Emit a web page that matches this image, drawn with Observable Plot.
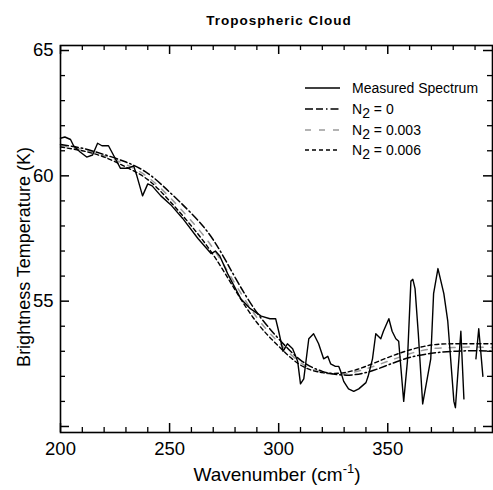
<!DOCTYPE html>
<html>
<head>
<meta charset="utf-8">
<script src="https://cdn.jsdelivr.net/npm/d3@7"></script>
<script src="https://cdn.jsdelivr.net/npm/@observablehq/plot@0.6"></script>
<style>
  html, body { margin: 0; padding: 0; background: white; }
  svg { display: block; }
</style>
</head>
<body>
<div id="chart"></div>
<script>
// Measured spectrum (wavenumber cm-1, brightness temperature K); NaN = gap
const measWn = [200, 202, 204.6, 206, 209, 212, 214.7, 217, 219, 222, 224, 227.5, 230.7, 233.5, 235, 237.6, 240, 242, 246, 250.5, 256, 263, 269, 271, 273, 276.6, 282.6, 287, 292, 296, 298.6, 300, 302, 304, 306.4, 308.7, 310, 311.5, 313.8, 316, 318.3, 320.6, 322.5, 323.8, 326, 327.5, 328.4, 329.8, 332, 334.4, 336.7, 340, 341, 343, 344.5, 346.8, 348, 350.5, 352, 353.7, 355, 357.3, 359, 360.6, 361.5, 362.5, 364, 366, 369.7, 371, 373, 375.7, 377.5, 380.3, 381, 383.5, 384.9, 387, 390.4, 391.7, 393.6];
const measT = [61.5, 61.55, 61.45, 61.2, 60.95, 60.75, 60.83, 61.3, 61.2, 61.2, 60.87, 60.3, 60.3, 60.4, 60.0, 59.2, 59.68, 59.6, 59.2, 58.85, 58.3, 57.5, 56.9, 57.0, 56.8, 56.1, 55.1, 54.7, 54.4, 54.3, 54.3, 53.8, 53.0, 53.3, 53.1, 52.6, 51.7, 51.9, 53.5, 53.7, 53.3, 52.7, 52.8, 52.5, 52.4, 52.4, 52.2, 51.8, 51.5, 51.4, 51.5, 51.75, 52.0, 52.7, 53.7, 53.5, 53.8, 54.3, 53.8, 53.5, 53.4, 51.0, 52.6, 55.8, 55.87, 55.5, 53.7, 50.9, 52.7, 55.3, 56.3, 55.3, 54.2, 51.0, 50.75, 53.8, 51.1, NaN, 52.7, 53.9, 52.0];

// Model curves
const modelWn = [200, 210, 220, 230, 240, 250, 260, 270, 280, 290, 300, 310, 320, 330, 340, 350, 360, 370, 380, 390, 398];
const n2_0     = [61.25, 61.1, 60.85, 60.55, 60.1, 59.35, 58.5, 57.45, 55.95, 54.55, 53.5, 52.65, 52.2, 52.05, 52.15, 52.45, 52.75, 52.92, 53.0, 53.02, 53.0];
const n2_003   = [61.2, 61.05, 60.8, 60.45, 59.95, 59.15, 58.2, 57.1, 55.7, 54.35, 53.35, 52.55, 52.15, 52.1, 52.3, 52.6, 52.9, 53.1, 53.15, 53.17, 53.15];
const n2_006   = [61.15, 61.0, 60.75, 60.35, 59.85, 59.0, 58.0, 56.85, 55.45, 54.15, 53.2, 52.45, 52.15, 52.15, 52.4, 52.75, 53.05, 53.25, 53.3, 53.3, 53.3];

// Axis ticks
const xMajor = [200, 250, 300, 350];
const xMinor = [210, 220, 230, 240, 260, 270, 280, 290, 310, 320, 330, 340, 360, 370, 380, 390];
const yMajor = [50, 55, 60, 65];
const yMinor = [51, 52, 53, 54, 56, 57, 58, 59, 61, 62, 63, 64];
const yLabels = [55, 60, 65];

const title = "Tropospheric Cloud";
const legendItems = [
  {label: "Measured Spectrum", sub: null, dash: null, color: "#000"},
  {label: "N", sub: "2", rest: " = 0", dash: "8,3,7,3,1.5,3", color: "#000"},
  {label: "N", sub: "2", rest: " = 0.003", dash: "6,8", color: "#9a9a9a"},
  {label: "N", sub: "2", rest: " = 0.006", dash: "4,3", color: "#000"}
];

const measured = measWn.map((w, i) => ({w, t: measT[i]}));
const mk = (arr) => modelWn.map((w, i) => ({w, t: arr[i]}));

const W = 493, H = 490, mL = 60, mR = 1, mT = 45, mB = 58;
const innerH = H - mT - mB, innerW = W - mL - mR;
const MAJ = 9, MIN = 5;

const chart = Plot.plot({
  width: W, height: H,
  marginLeft: mL, marginRight: mR, marginTop: mT, marginBottom: mB,
  x: {domain: [200, 398]},
  y: {domain: [49.76, 65.2]},
  style: {fontFamily: "'Liberation Sans', Arial, sans-serif", background: "white", color: "black"},
  marks: [
    Plot.line(mk(n2_003), {x: "w", y: "t", curve: "natural", stroke: "#9a9a9a", strokeWidth: 1.5, strokeDasharray: "6,8"}),
    Plot.line(mk(n2_0), {x: "w", y: "t", curve: "natural", stroke: "#000", strokeWidth: 1.5, strokeDasharray: "8,3,7,3,1.5,3"}),
    Plot.line(mk(n2_006), {x: "w", y: "t", curve: "natural", stroke: "#000", strokeWidth: 1.4, strokeDasharray: "4,3"}),
    Plot.line(measured, {x: "w", y: "t", stroke: "#000", strokeWidth: 1.4, curve: "linear"}),
    // inward ticks: bottom / top
    Plot.tickX(xMajor, {x: d => d, insetTop: innerH - MAJ, strokeWidth: 1.5}),
    Plot.tickX(xMinor, {x: d => d, insetTop: innerH - MIN, strokeWidth: 1.3}),
    Plot.tickX(xMajor, {x: d => d, insetBottom: innerH - MAJ, strokeWidth: 1.5}),
    Plot.tickX(xMinor, {x: d => d, insetBottom: innerH - MIN, strokeWidth: 1.3}),
    // inward ticks: left / right
    Plot.tickY(yMajor, {y: d => d, insetRight: innerW - MAJ, strokeWidth: 1.5}),
    Plot.tickY(yMinor, {y: d => d, insetRight: innerW - MIN, strokeWidth: 1.3}),
    Plot.tickY(yMajor, {y: d => d, insetLeft: innerW - MAJ, strokeWidth: 1.5}),
    Plot.tickY(yMinor, {y: d => d, insetLeft: innerW - MIN, strokeWidth: 1.3}),
    Plot.frame({stroke: "#000", strokeWidth: 1.6}),
    Plot.axisX({ticks: xMajor, tickSize: 0, tickPadding: 9, fontSize: 18.5, label: null}),
    Plot.axisY({ticks: yLabels, tickSize: 0, tickPadding: 7, fontSize: 18.5, label: null})
  ]
});

const svg = d3.select(chart);
const font = "'Liberation Sans', Arial, sans-serif";

// Title
svg.append("text").attr("x", 279).attr("y", 25).attr("text-anchor", "middle")
  .attr("font-family", font).attr("font-size", 13.5).attr("font-weight", "bold")
  .attr("letter-spacing", "1px").attr("fill", "#000").text(title);

// X label with superscript
const xl = svg.append("text").attr("x", 277).attr("y", 481).attr("text-anchor", "middle")
  .attr("font-family", font).attr("font-size", 19).attr("fill", "#000");
xl.append("tspan").text("Wavenumber (cm");
xl.append("tspan").attr("dy", -8).attr("font-size", 13).text("-1");
xl.append("tspan").attr("dy", 8).text(")");

// Y label
svg.append("text").attr("transform", "translate(30,257) rotate(-90)").attr("text-anchor", "middle")
  .attr("font-family", font).attr("font-size", 18).attr("fill", "#000")
  .text("Brightness Temperature (K)");

// Legend
const rowY = [88, 109, 130, 150];
legendItems.forEach((d, i) => {
  const y = rowY[i];
  const ln = svg.append("line").attr("x1", 305).attr("x2", 340).attr("y1", y).attr("y2", y)
    .attr("stroke", d.color).attr("stroke-width", 1.5);
  if (d.dash) ln.attr("stroke-dasharray", d.dash);
  const t = svg.append("text").attr("x", 352).attr("y", y + 5).attr("text-anchor", "start")
    .attr("font-family", font).attr("font-size", 14).attr("fill", "#000");
  t.append("tspan").text(d.label);
  if (d.sub) {
    t.append("tspan").attr("dy", 4).attr("font-size", 14).text(d.sub);
    t.append("tspan").attr("dy", -4).text(d.rest);
  }
});

document.getElementById("chart").appendChild(chart);
</script>
</body>
</html>
